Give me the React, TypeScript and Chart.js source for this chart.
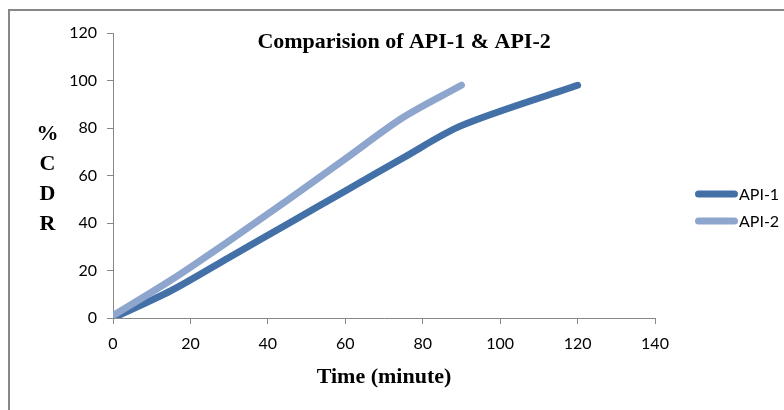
import React, { useEffect, useRef } from "react";
import { Chart, registerables } from "chart.js";

Chart.register(...registerables);

const chartTitle = "Comparision of API-1 & API-2";
const xAxisTitle = "Time (minute)";
const yAxisTitle = ["%", "C", "D", "R"];

const seriesNames = ["API-1", "API-2"];
const seriesColors = ["#4470A8", "#8EA6CD"];

const timesApi1 = [0, 15, 30, 45, 60, 75, 90, 120];
const valuesApi1 = [0, 11.5, 25.5, 39.5, 53.5, 67.5, 81, 98];

const timesApi2 = [0, 15, 30, 45, 60, 75, 90];
const valuesApi2 = [1, 16, 32.5, 49.5, 67, 84.5, 98];

const xMin = 0, xMax = 140, xStep = 20;
const yMin = 0, yMax = 120, yStep = 20;

const TICK_FONT = "Lato, 'Liberation Sans', sans-serif";
const SERIF = "'Liberation Serif', 'Times New Roman', serif";

const decorPlugin = {
  id: "decor",
  beforeDraw(chart: any) {
    const ctx = chart.ctx;
    ctx.save();
    ctx.fillStyle = "#ffffff";
    ctx.fillRect(0, 0, chart.width, chart.height);
    ctx.strokeStyle = "#878787";
    ctx.lineWidth = 2;
    ctx.strokeRect(9, 10, chart.width + 20, chart.height + 20);
    ctx.restore();
  },
  afterDraw(chart: any) {
    const ctx = chart.ctx;
    const area = chart.chartArea;
    ctx.save();
    ctx.fillStyle = "#000000";
    ctx.font = `bold 22px ${SERIF}`;
    ctx.textAlign = "center";
    ctx.textBaseline = "alphabetic";
    // chart title
    ctx.fillText(chartTitle, area.left + (area.right - area.left) * 0.537, area.top + 15);
    // x axis title
    ctx.fillText(xAxisTitle, (area.left + area.right) / 2, area.bottom + 65);
    // y axis title, stacked letters
    yAxisTitle.forEach((ch, i) => {
      ctx.fillText(ch, 47.5, 140 + i * 30);
    });
    // legend
    const lx0 = area.right + 43.5;
    const lx1 = area.right + 79.5;
    chart.data.datasets.forEach((ds: any, i: number) => {
      const y = 194 + i * 27;
      ctx.beginPath();
      ctx.strokeStyle = ds.borderColor;
      ctx.lineWidth = 7;
      ctx.lineCap = "round";
      ctx.moveTo(lx0, y);
      ctx.lineTo(lx1, y);
      ctx.stroke();
      ctx.fillStyle = "#000000";
      ctx.font = `16px ${TICK_FONT}`;
      ctx.textAlign = "left";
      ctx.fillText(ds.label, area.right + 84, y + 6);
    });
    ctx.restore();
  },
};

export default function App() {
  const canvasRef = useRef<HTMLCanvasElement | null>(null);

  useEffect(() => {
    const canvas = canvasRef.current;
    if (!canvas) return;
    const toPoints = (xs: number[], ys: number[]) => xs.map((x, i) => ({ x, y: ys[i] }));
    const chart = new Chart(canvas, {
      type: "line",
      data: {
        datasets: [
          {
            label: seriesNames[0],
            data: toPoints(timesApi1, valuesApi1),
            borderColor: seriesColors[0],
            backgroundColor: seriesColors[0],
            borderWidth: 7,
            pointRadius: 0,
            tension: 0.3,
            borderCapStyle: "round",
            borderJoinStyle: "round",
            clip: 0,
            order: 1,
          },
          {
            label: seriesNames[1],
            data: toPoints(timesApi2, valuesApi2),
            borderColor: seriesColors[1],
            backgroundColor: seriesColors[1],
            borderWidth: 7,
            pointRadius: 0,
            tension: 0.3,
            borderCapStyle: "round",
            borderJoinStyle: "round",
            clip: 0,
            order: 0,
          },
        ],
      },
      options: {
        responsive: false,
        animation: false,
        layout: { padding: { left: 0, right: 129, top: 33, bottom: 0 } },
        plugins: {
          legend: { display: false },
          title: { display: false },
          tooltip: { enabled: false },
        },
        scales: {
          x: {
            type: "linear",
            min: xMin,
            max: xMax,
            ticks: {
              stepSize: xStep,
              padding: 10,
              color: "#000000",
              font: { family: TICK_FONT, size: 16 },
            },
            grid: {
              drawOnChartArea: false,
              drawTicks: true,
              tickLength: 6,
              color: "#888888",
            },
            border: { display: true, color: "#888888", width: 1 },
            afterFit: (scale: any) => {
              scale.height = 92;
            },
          },
          y: {
            type: "linear",
            min: yMin,
            max: yMax,
            ticks: {
              stepSize: yStep,
              padding: 10,
              color: "#000000",
              font: { family: TICK_FONT, size: 16 },
            },
            grid: {
              drawOnChartArea: false,
              drawTicks: true,
              tickLength: 6,
              color: "#888888",
            },
            border: { display: true, color: "#888888", width: 1 },
            afterFit: (scale: any) => {
              scale.width = 113;
            },
          },
        },
      },
      plugins: [decorPlugin],
    } as any);
    return () => chart.destroy();
  }, []);

  return (
    <div style={{ position: "absolute", left: 0, top: 0, width: 784, height: 410 }}>
      <canvas ref={canvasRef} width={784} height={410} style={{ display: "block", width: 784, height: 410 }} />
    </div>
  );
}
